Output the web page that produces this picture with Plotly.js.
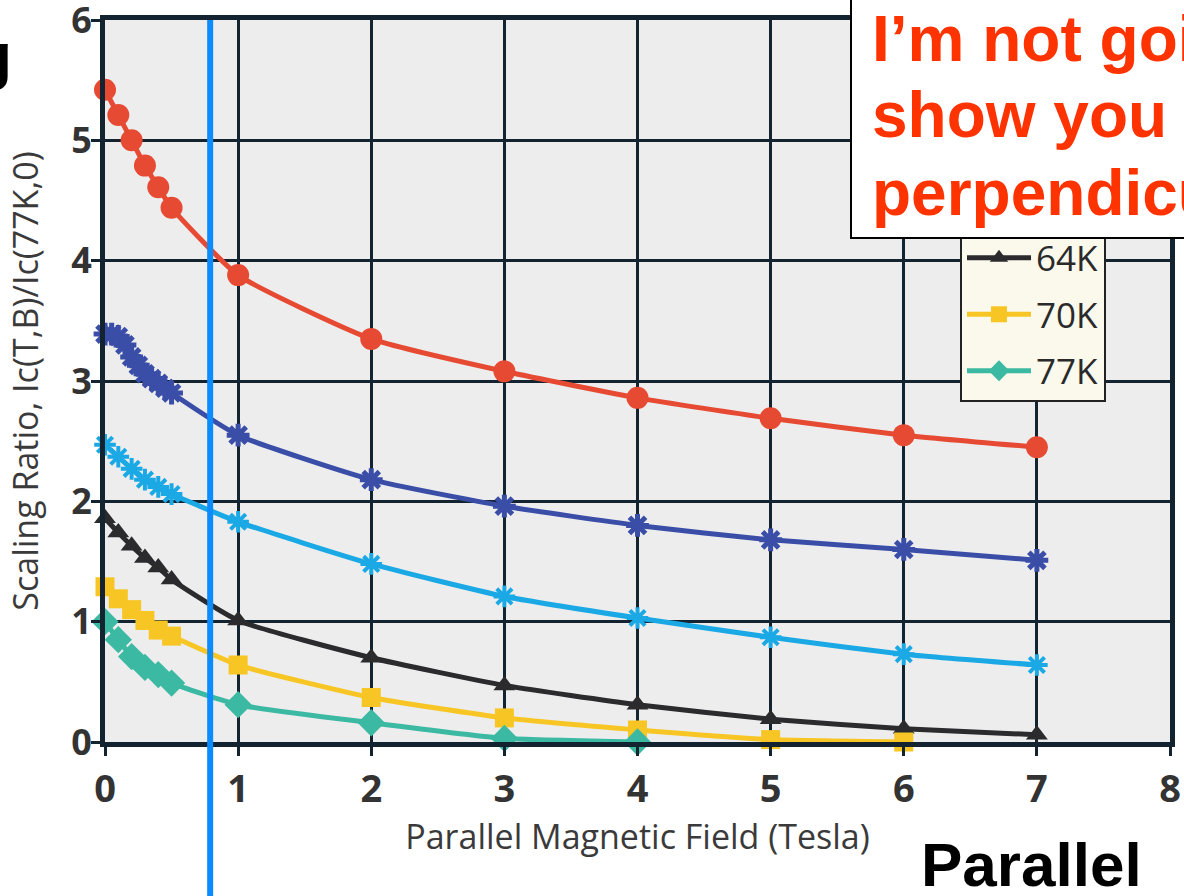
<!DOCTYPE html>
<html>
<head>
<meta charset="utf-8">
<script src="https://cdn.plot.ly/plotly-3.0.1.min.js"></script>
<style>
  html, body { margin: 0; padding: 0; background: #ffffff; }
  #chart { width: 1184px; height: 896px; }
</style>
</head>
<body>
<div id="chart"></div>
<script>
// ---- data ----
const fieldFine = [0, 0.1, 0.2, 0.3, 0.4, 0.5, 1, 2, 3, 4, 5, 6, 7];
const fieldDense = [0, 0.05, 0.1, 0.15, 0.2, 0.25, 0.3, 0.35, 0.4, 0.45, 0.5, 1, 2, 3, 4, 5, 6, 7];
const fieldTo6 = [0, 0.1, 0.2, 0.3, 0.4, 0.5, 1, 2, 3, 4, 5, 6];
const fieldTo4 = [0, 0.1, 0.2, 0.3, 0.4, 0.5, 1, 2, 3, 4];

const ratioRed = [5.42, 5.21, 5.0, 4.79, 4.61, 4.44, 3.88, 3.35, 3.08, 2.86, 2.69, 2.55, 2.45];
const ratioDarkBlue = [3.39, 3.39, 3.37, 3.30, 3.20, 3.13, 3.06, 3.02, 2.98, 2.94, 2.90, 2.55, 2.18, 1.96, 1.80, 1.68, 1.60, 1.51];
const ratioLightBlue = [2.47, 2.37, 2.27, 2.18, 2.12, 2.06, 1.83, 1.48, 1.21, 1.03, 0.87, 0.73, 0.64];
const ratio64K = [1.86, 1.74, 1.63, 1.53, 1.45, 1.35, 1.01, 0.70, 0.47, 0.31, 0.19, 0.11, 0.06];
const ratio70K = [1.29, 1.19, 1.10, 1.01, 0.93, 0.88, 0.64, 0.37, 0.20, 0.10, 0.02, 0.0];
const ratio77K = [1.00, 0.85, 0.71, 0.62, 0.56, 0.49, 0.31, 0.16, 0.03, 0.0];

const xTicks = [0, 1, 2, 3, 4, 5, 6, 7, 8];
const yTicks = [0, 1, 2, 3, 4, 5, 6];
const seriesNames = ['20K', '30K', '50K', '64K', '70K', '77K'];

const xTitle = 'Parallel Magnetic Field (Tesla)';
const yTitle = 'Scaling Ratio, Ic(T,B)/Ic(77K,0)';
const noteLines = ['I\u2019m not going to', 'show you the', 'perpendicular'];
const cornerWord = 'Parallel';
const titleFragment = 'g';

// ---- styles ----
const gridCol = '#13232f';
const lineStyle = { shape: 'spline', smoothing: 0.5, width: 5 };

function trace(x, y, name, color, marker, showLegend) {
  return {
    type: 'scatter', mode: 'lines+markers', x: x, y: y, name: name,
    line: Object.assign({ color: color }, lineStyle),
    marker: Object.assign({ color: color }, marker),
    cliponaxis: false, showlegend: showLegend, legendgroup: name
  };
}

const data = [
  trace(fieldFine, ratioRed, seriesNames[0], '#e64a33', { symbol: 'circle', size: 22 }, true),
  trace(fieldDense, ratioDarkBlue, seriesNames[1], '#3a4ea8', { symbol: 'asterisk-open', size: 19, line: { color: '#3a4ea8', width: 5 } }, true),
  trace(fieldFine, ratioLightBlue, seriesNames[2], '#1ba9e6', { symbol: 'asterisk-open', size: 18, line: { color: '#1ba9e6', width: 4 } }, true),
  trace(fieldFine, ratio64K, seriesNames[3], '#2b2b2e', { symbol: 'triangle-up', size: 19 }, true),
  trace(fieldTo6, ratio70K, seriesNames[4], '#f7c625', { symbol: 'square', size: 19 }, true),
  trace(fieldTo4, ratio77K, seriesNames[5], '#3cb9a2', { symbol: 'diamond', size: 21 }, true)
];

const xTickFont = { family: 'Open Sans, sans-serif', size: 38, color: '#333333', weight: 700 };
const yTickFont = { family: 'Open Sans, sans-serif', size: 36, color: '#333333', weight: 700 };
const titleFont = { family: 'Open Sans, sans-serif', size: 34, color: '#3a3a3a' };
const noteFont = { family: 'Liberation Sans, Arial, sans-serif', size: 64, color: '#ff3300', weight: 700 };

function px2x(p) { return (p - 105) / 1065; }
function px2y(p) { return (742 - p) / 722; }

const noteAnn = noteLines.map(function (t, i) {
  return { xref: 'paper', yref: 'paper', x: px2x(870), y: px2y([39, 115, 193][i]),
    xanchor: 'left', yanchor: 'middle', align: 'left', showarrow: false, text: t, font: noteFont };
});

const layout = {
  width: 1184, height: 896,
  margin: { l: 105, r: 14, t: 20, b: 154 },
  paper_bgcolor: '#ffffff',
  plot_bgcolor: '#ededee',
  showlegend: true,
  legend: {
    x: px2x(960), xanchor: 'left', y: px2y(402), yanchor: 'bottom',
    bgcolor: '#fbf9ec', bordercolor: '#222222', borderwidth: 2,
    font: { family: 'Open Sans, sans-serif', size: 35, color: '#2a2a2a' },
    traceorder: 'grouped', tracegroupgap: 8, itemwidth: 64
  },
  xaxis: {
    range: [0, 8], tickvals: xTicks, ticktext: xTicks.map(String),
    showgrid: true, gridcolor: gridCol, gridwidth: 3,
    showline: true, linecolor: gridCol, linewidth: 5, mirror: true,
    zeroline: false, ticks: 'outside', ticklen: 9, tickwidth: 3, tickcolor: gridCol,
    tickfont: xTickFont, ticklabeloverflow: 'allow',
    title: { text: xTitle, font: titleFont, standoff: 14 },
    automargin: false
  },
  yaxis: {
    range: [0, 6], tickvals: yTicks, ticktext: yTicks.map(String),
    showgrid: true, gridcolor: gridCol, gridwidth: 3,
    showline: true, linecolor: gridCol, linewidth: 5, mirror: true,
    zeroline: false, ticks: 'outside', ticklen: 9, tickwidth: 3, tickcolor: gridCol,
    tickfont: yTickFont, ticklabelstandoff: -8, ticklabeloverflow: 'allow',
    title: { text: yTitle, font: titleFont, standoff: 24 },
    automargin: false
  },
  shapes: [
    { type: 'line', layer: 'above', xref: 'x', yref: 'paper', x0: 0.79, x1: 0.79, y0: -0.22, y1: 1.0,
      line: { color: '#0a8cff', width: 6 } }
  ],
  annotations: [
    { xref: 'paper', yref: 'paper', x: px2x(850), y: px2y(239), xanchor: 'left', yanchor: 'bottom',
      showarrow: false, text: '\u00a0', width: 420, height: 270, borderpad: 0,
      bgcolor: '#ffffff', bordercolor: '#000000', borderwidth: 2 }
  ].concat(noteAnn).concat([
    { xref: 'paper', yref: 'paper', x: px2x(1031), y: px2y(864), xanchor: 'center', yanchor: 'middle',
      showarrow: false, text: cornerWord,
      font: { family: 'Liberation Sans, Arial, sans-serif', size: 62, color: '#000000', weight: 700 } },
    { xref: 'paper', yref: 'paper', x: px2x(14), y: px2y(56), xanchor: 'right', yanchor: 'middle',
      showarrow: false, text: titleFragment,
      font: { family: 'Liberation Sans, Arial, sans-serif', size: 64, color: '#000000', weight: 700 } }
  ])
};

Plotly.newPlot('chart', data, layout, { displayModeBar: false, staticPlot: true });
</script>
</body>
</html>
